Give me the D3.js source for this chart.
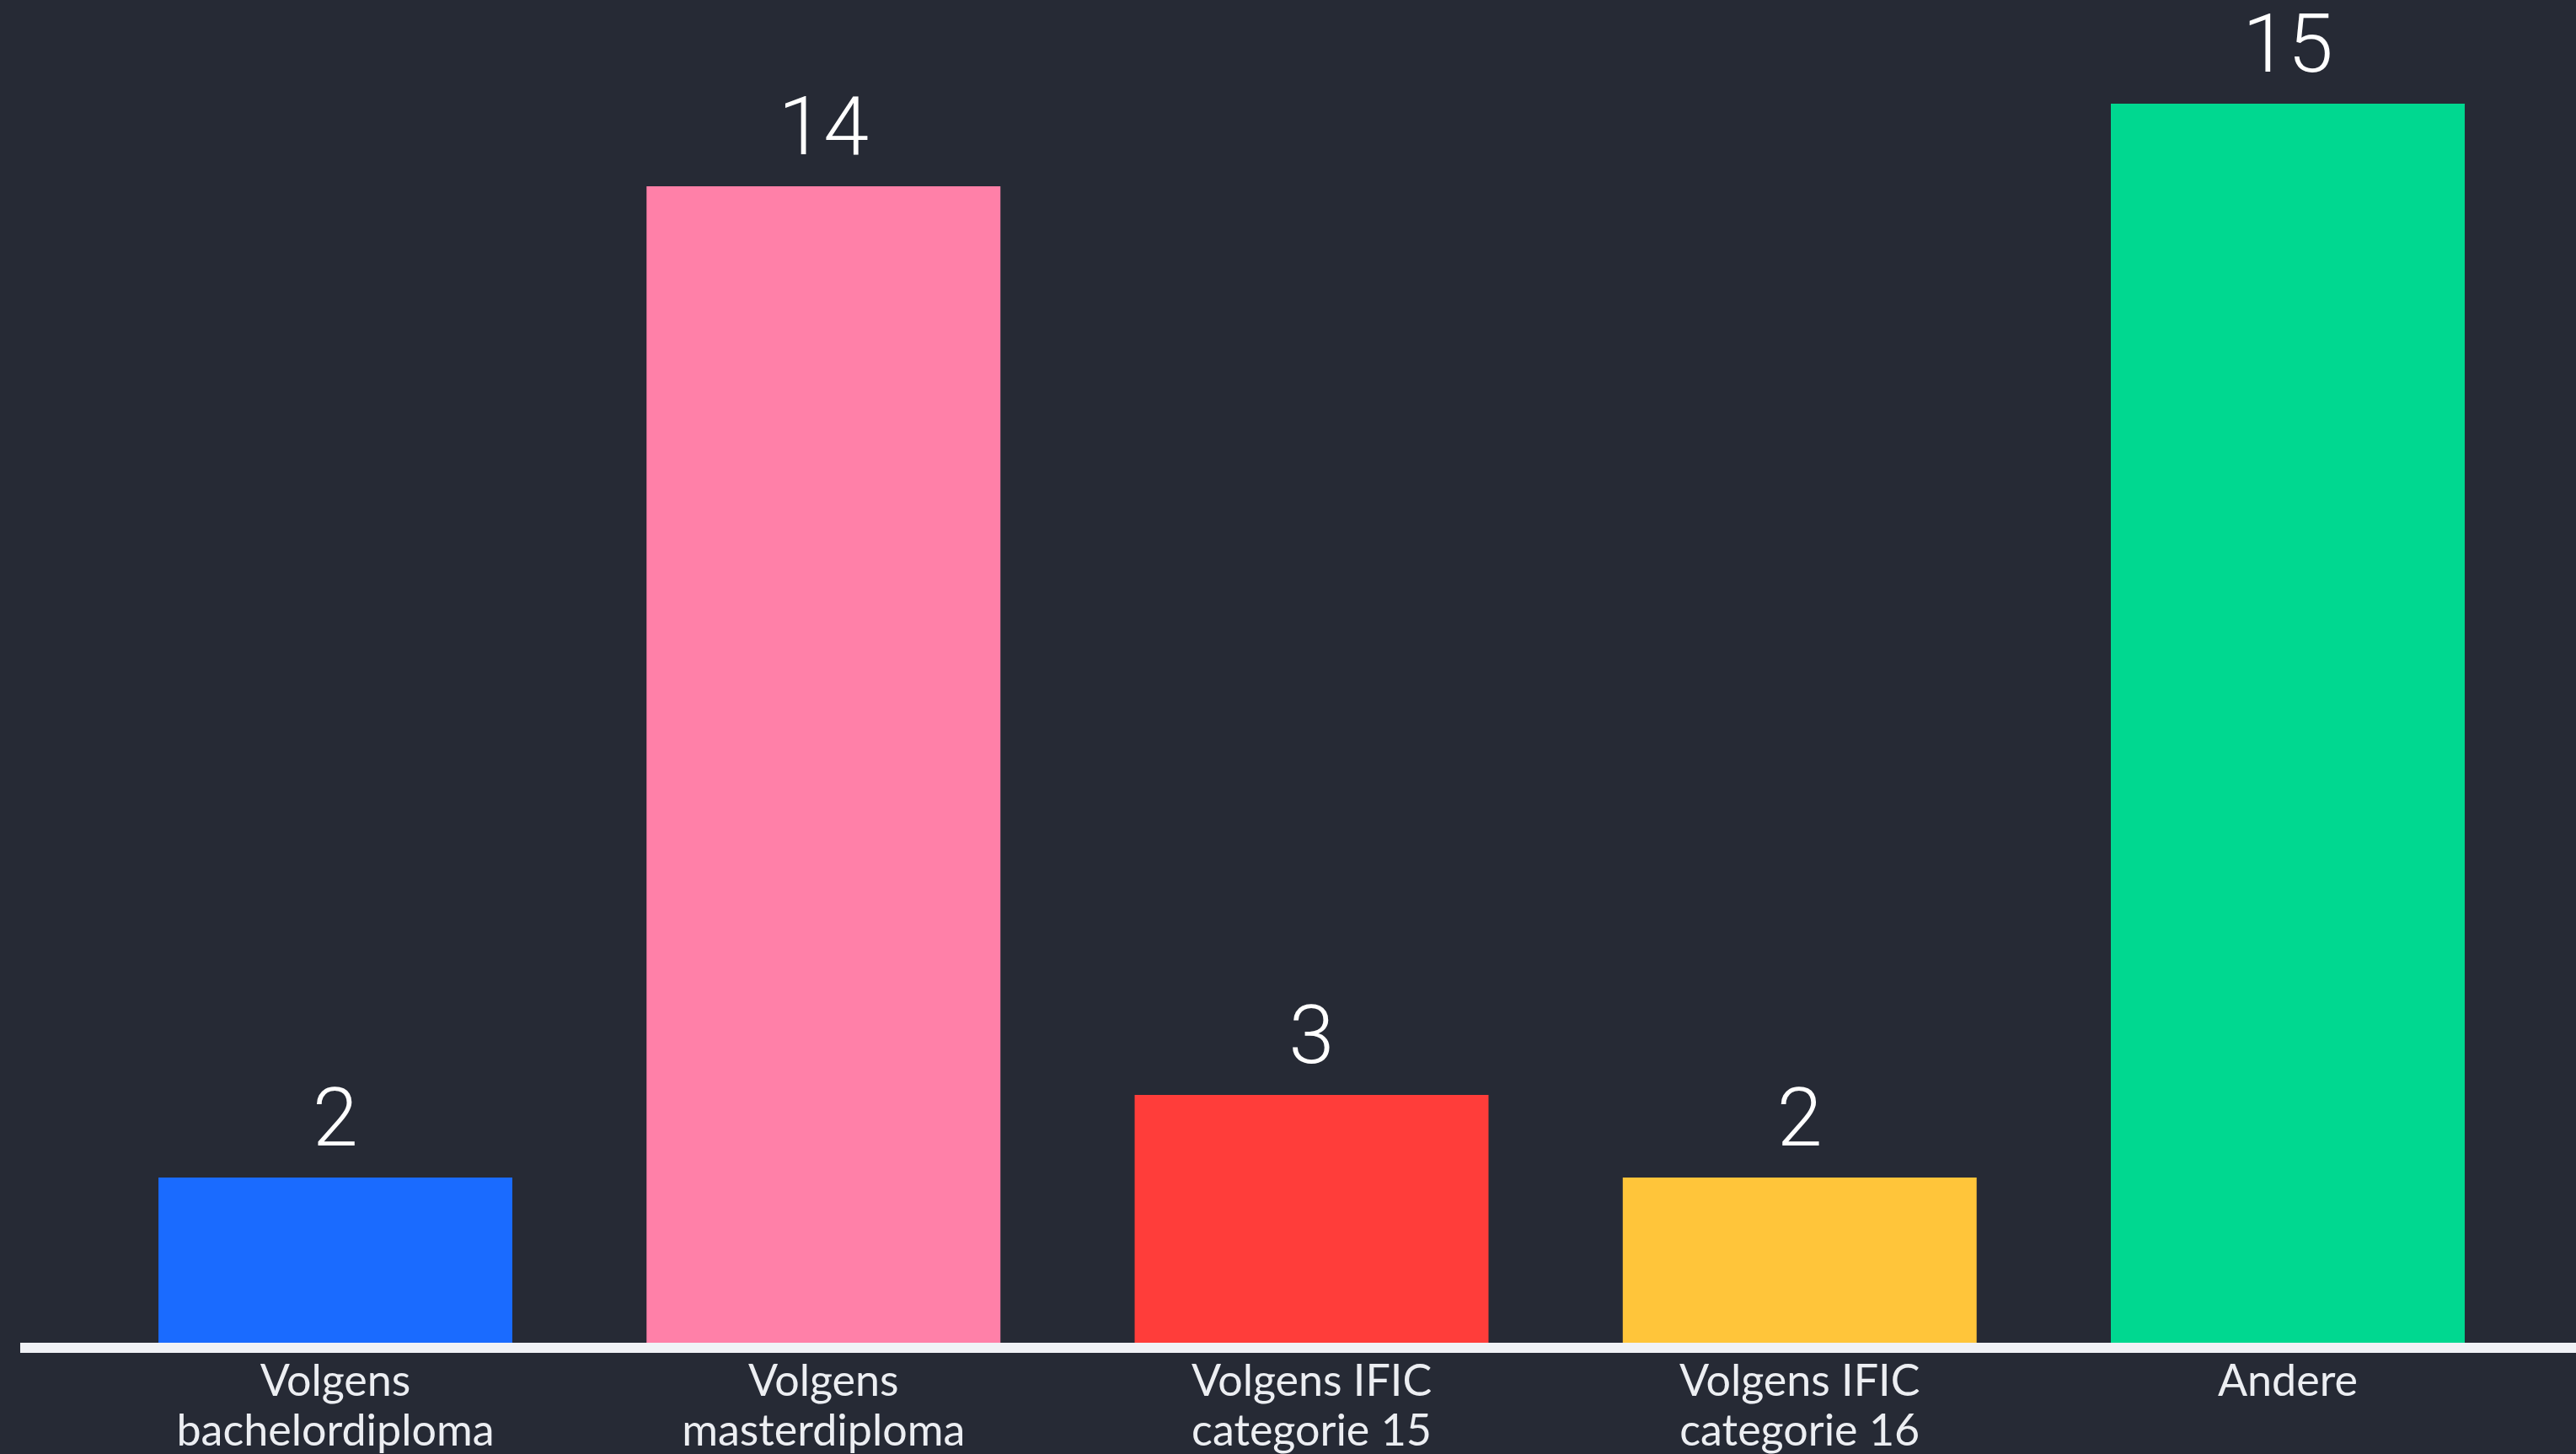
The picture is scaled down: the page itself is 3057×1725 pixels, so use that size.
<!DOCTYPE html>
<html>
<head>
<meta charset="utf-8">
<script src="https://cdn.jsdelivr.net/npm/d3@7"></script>
<style>
  html, body { margin: 0; padding: 0; background: #262a35; }
  svg { display: block; }
</style>
</head>
<body>
<svg id="chart" width="3057" height="1725"></svg>
<script>
const categories = [
  ["Volgens", "bachelordiploma"],
  ["Volgens", "masterdiploma"],
  ["Volgens IFIC", "categorie 15"],
  ["Volgens IFIC", "categorie 16"],
  ["Andere"]
];
const values = [2, 14, 3, 2, 15];
const colors = ["#1a6bff", "#ff80a8", "#ff3d3a", "#ffc53a", "#00d890"];
const keys = categories.map(c => c.join(" "));

const W = 3057, H = 1725;
const svg = d3.select("#chart");
svg.append("rect").attr("width", W).attr("height", H).attr("fill", "#262a35");

const x = d3.scaleBand()
  .domain(keys)
  .range([108.4, 3004.6])
  .paddingInner(0.275)
  .paddingOuter(0.1375);

const y = d3.scaleLinear()
  .domain([0, 15])
  .range([1593, 123]);

// bars
svg.append("g").selectAll("rect")
  .data(values)
  .join("rect")
  .attr("x", (d, i) => x(keys[i]))
  .attr("width", x.bandwidth())
  .attr("y", d => y(d))
  .attr("height", d => y(0) - y(d))
  .attr("fill", (d, i) => colors[i]);

// value labels
svg.append("g").selectAll("text")
  .data(values)
  .join("text")
  .attr("x", (d, i) => x(keys[i]) + x.bandwidth() / 2)
  .attr("y", d => y(d) - 38)
  .attr("text-anchor", "middle")
  .attr("font-family", "Roboto, 'Liberation Sans', Arial, sans-serif")
  .attr("font-weight", 300)
  .attr("font-size", 97)
  .attr("fill", "#ffffff")
  .text(d => d);

// x axis
const axis = d3.axisBottom(x).tickSize(0).tickFormat("");
const gx = svg.append("g")
  .attr("transform", `translate(0,${y(0) + 6})`)
  .call(axis);
gx.select(".domain").remove();
gx.append("line")
  .attr("x1", 24).attr("x2", W)
  .attr("y1", 0).attr("y2", 0)
  .attr("stroke", "#f0f2f6")
  .attr("stroke-width", 12);

gx.selectAll(".tick").each(function(k, i) {
  const t = d3.select(this).append("text")
    .attr("text-anchor", "middle")
    .attr("font-family", "Lato, 'Liberation Sans', sans-serif")
    .attr("font-size", 52)
    .attr("fill", "#eceef2");
  categories[i].forEach((line, j) => {
    t.append("tspan").attr("x", 0).attr("y", 57 + j * 59).text(line);
  });
});
</script>
</body>
</html>
